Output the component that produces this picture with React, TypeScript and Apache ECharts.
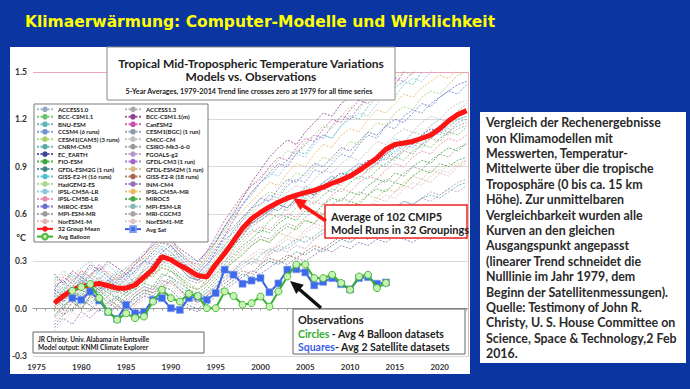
import React, { useEffect, useRef } from 'react';
import * as echarts from 'echarts';

// ---------- DATA ----------
const modelStartYear = 1977; // model runs and group mean: 1977..2023 (5-yr averages)
const obsStartYear = 1979; // observations: 1979..2014

const groupMean = [
  0.035, 0.08, 0.12, 0.14, 0.15, 0.16, 0.145, 0.13, 0.13, 0.15,
  0.2, 0.25, 0.33, 0.31, 0.275, 0.245, 0.21, 0.2, 0.28, 0.35,
  0.43, 0.51, 0.57, 0.61, 0.645, 0.675, 0.7, 0.72, 0.735, 0.75,
  0.77, 0.795, 0.815, 0.84, 0.875, 0.915, 0.955, 1.01, 1.04, 1.05,
  1.06, 1.08, 1.1, 1.14, 1.19, 1.23, 1.255,
];

const avgBalloon = [
  0.113, 0.137, 0.156, 0.067, -0.02, -0.07, -0.03, -0.06, -0.05, 0.045,
  0.12, 0.067, 0.045, 0.095, 0.08, 0.003, 0.003, 0.109, 0.08, 0.025,
  0.035, 0.077, 0.013, 0.109, 0.204, 0.28, 0.28, 0.194, 0.194, 0.215,
  0.163, 0.12, 0.204, 0.215, 0.13, 0.163,
];

const avgSat = [
  0.067, 0.056, 0.109, 0.052, -0.02, -0.065, 0.024, -0.029, -0.02, 0.056,
  0.067, 0.003, -0.008, 0.067, 0.075, 0.056, 0.099, 0.247, 0.215, 0.158,
  0.178, 0.194, 0.104, 0.16, 0.247, 0.25, 0.23, 0.148, 0.17, 0.194,
  0.155, 0.122, 0.194, 0.2, 0.158, 0.166,
];

const m01 = [.10,.05,.12,.18,.14,.20,.12,.10,.16,.12,.22,.26,.30,.36,.28,.22,.18,.22,.30,.38,.42,.50,.55,.62,.60,.68,.72,.70,.78,.74,.80,.84,.80,.88,.92,.90,.98,1.02,1.08,1.05,1.12,1.10,1.16,1.20,1.18,1.25,1.30];
const m02 = [.00,.06,.10,.08,.15,.12,.18,.10,.14,.20,.16,.24,.28,.26,.20,.16,.12,.18,.26,.30,.38,.44,.50,.48,.56,.60,.58,.64,.70,.66,.72,.76,.74,.80,.84,.82,.88,.92,.96,.94,1.00,1.04,1.02,1.08,1.12,1.10,1.15];
const m03 = [.20,.15,.22,.18,.26,.22,.18,.24,.20,.28,.32,.38,.44,.40,.34,.30,.26,.34,.42,.50,.58,.66,.72,.80,.84,.90,.94,1.00,.98,1.06,1.10,1.08,1.16,1.22,1.20,1.28,1.34,1.32,1.40,1.44,1.42,1.50,1.54,1.52,1.58,1.62,1.66];
const m04 = [.05,.12,.08,.16,.20,.14,.12,.18,.22,.16,.26,.32,.38,.30,.26,.24,.20,.26,.36,.44,.48,.56,.64,.66,.72,.70,.78,.82,.80,.88,.86,.92,.98,.96,1.04,1.10,1.08,1.16,1.14,1.22,1.26,1.24,1.30,1.34,1.38,1.36,1.42];
const m05 = [-.02,.04,.10,.14,.10,.18,.14,.08,.12,.18,.24,.22,.32,.34,.28,.22,.20,.24,.32,.40,.50,.58,.62,.70,.74,.72,.80,.86,.84,.90,.96,.94,1.00,1.06,1.04,1.12,1.18,1.16,1.24,1.28,1.26,1.34,1.38,1.36,1.42,1.48,1.50];
const m06 = [-.05,.02,.06,.10,.04,.08,.12,.06,.02,.08,.12,.10,.16,.20,.14,.10,.06,.10,.16,.20,.24,.30,.28,.34,.38,.36,.40,.44,.42,.46,.50,.48,.52,.56,.54,.58,.62,.60,.64,.68,.66,.70,.72,.70,.74,.78,.80];
const m07 = [.12,.08,.14,.20,.16,.12,.18,.14,.10,.16,.20,.28,.34,.30,.26,.20,.18,.22,.26,.34,.40,.46,.54,.58,.62,.66,.64,.70,.74,.72,.78,.82,.86,.84,.90,.94,.92,.98,1.02,1.06,1.04,1.10,1.14,1.12,1.18,1.22,1.24];
const m08 = [.08,.02,.06,.12,.08,.14,.10,.06,.10,.14,.18,.22,.26,.24,.20,.14,.12,.16,.22,.28,.34,.40,.44,.50,.48,.54,.58,.56,.62,.60,.66,.70,.68,.74,.72,.78,.82,.80,.86,.84,.90,.94,.92,.98,1.02,1.00,1.05];
const m09 = [-.10,-.04,.00,.06,.02,-.02,.04,.08,.02,.06,.10,.08,.14,.12,.06,.02,.00,.04,.10,.14,.18,.22,.20,.26,.30,.28,.32,.36,.34,.38,.36,.40,.44,.42,.46,.44,.48,.50,.48,.52,.50,.54,.52,.56,.54,.58,.56];
const m10 = [.16,.10,.18,.22,.16,.24,.20,.14,.20,.24,.30,.34,.40,.36,.30,.26,.22,.28,.34,.40,.46,.52,.56,.60,.64,.62,.68,.72,.70,.76,.80,.78,.84,.88,.86,.92,.96,.94,1.00,1.04,1.02,1.08,1.12,1.10,1.16,1.20,1.22];
const m11 = [.06,.12,.18,.14,.22,.18,.14,.20,.26,.22,.30,.36,.42,.38,.32,.26,.24,.32,.42,.52,.62,.70,.78,.84,.88,.94,1.00,.98,1.06,1.10,1.16,1.14,1.22,1.28,1.26,1.34,1.40,1.38,1.46,1.50,1.48,1.56,1.60,1.58,1.64,1.70,1.72];
const m12 = [.18,.24,.20,.26,.30,.24,.28,.22,.26,.30,.36,.40,.46,.42,.36,.32,.30,.36,.44,.52,.60,.66,.74,.80,.86,.84,.92,.98,.96,1.04,1.10,1.08,1.16,1.20,1.24,1.22,1.30,1.36,1.34,1.42,1.46,1.44,1.50,1.54,1.58,1.56,1.62];
const m13 = [.04,.10,.06,.12,.18,.14,.10,.16,.12,.18,.22,.20,.28,.32,.26,.22,.18,.16,.24,.30,.36,.42,.48,.52,.50,.56,.60,.58,.64,.68,.66,.72,.76,.74,.80,.84,.82,.88,.92,.90,.96,1.00,.98,1.04,1.08,1.06,1.10];
const m14 = [.14,.18,.12,.16,.22,.26,.20,.16,.22,.26,.30,.28,.36,.40,.34,.28,.24,.30,.38,.46,.52,.58,.64,.70,.68,.76,.82,.80,.86,.92,.90,.96,1.02,1.00,1.06,1.12,1.10,1.16,1.20,1.18,1.24,1.30,1.28,1.34,1.38,1.42,1.44];
const m15 = [.02,.08,.12,.06,.14,.10,.16,.12,.08,.14,.18,.26,.30,.28,.22,.18,.16,.20,.28,.34,.40,.48,.52,.56,.60,.58,.64,.68,.66,.72,.76,.74,.80,.84,.82,.88,.92,.90,.96,1.00,.98,1.04,1.08,1.06,1.12,1.16,1.18];
const m16 = [-.08,-.02,.04,.00,.06,.10,.04,.00,.06,.02,.08,.12,.18,.16,.10,.06,.04,.08,.14,.20,.26,.30,.34,.38,.36,.42,.46,.44,.50,.54,.52,.58,.56,.62,.66,.64,.70,.68,.74,.78,.76,.82,.80,.86,.84,.90,.92];
const m17 = [.10,.16,.10,.18,.14,.20,.16,.10,.14,.20,.24,.30,.34,.32,.28,.22,.18,.24,.30,.36,.42,.48,.54,.56,.60,.64,.62,.68,.72,.70,.76,.80,.78,.84,.88,.86,.92,.96,.94,1.00,1.04,1.02,1.08,1.12,1.10,1.14,1.16];
const m18 = [.22,.16,.24,.20,.28,.24,.30,.26,.22,.28,.34,.40,.46,.44,.38,.34,.30,.36,.42,.52,.60,.70,.80,.88,.96,1.02,1.07,1.04,1.12,1.18,1.24,1.22,1.30,1.34,1.32,1.40,1.44,1.42,1.50,1.54,1.52,1.58,1.62,1.60,1.66,1.70,1.72];
const m19 = [.12,.20,.16,.24,.20,.28,.22,.18,.24,.30,.34,.42,.48,.44,.36,.30,.28,.36,.46,.56,.64,.72,.78,.82,.90,.96,.94,1.02,1.08,1.06,1.14,1.20,1.18,1.26,1.32,1.30,1.38,1.44,1.42,1.50,1.54,1.52,1.60,1.64,1.62,1.68,1.72];
const m20 = [.00,.06,.12,.08,.16,.12,.08,.14,.18,.12,.20,.26,.30,.34,.26,.20,.18,.22,.30,.36,.44,.50,.54,.58,.62,.66,.64,.70,.74,.72,.78,.82,.80,.86,.90,.88,.94,.98,.96,1.02,1.06,1.04,1.10,1.14,1.12,1.18,1.20];
const m21 = [.18,.12,.20,.16,.22,.18,.24,.20,.16,.22,.28,.32,.38,.36,.30,.24,.22,.28,.34,.42,.50,.56,.60,.66,.70,.68,.74,.78,.76,.82,.88,.86,.92,.96,.94,1.00,1.06,1.04,1.10,1.14,1.12,1.18,1.22,1.20,1.26,1.30,1.32];
const m22 = [-.04,.02,-.02,.06,.02,.08,.04,.00,.06,.10,.14,.12,.20,.24,.18,.12,.10,.14,.20,.26,.32,.38,.42,.46,.44,.50,.54,.52,.58,.62,.60,.66,.70,.68,.74,.72,.78,.82,.80,.86,.90,.88,.94,.98,.96,1.02,1.04];
const m23 = [.06,.00,.08,.04,.10,.06,.02,.08,.04,.10,.14,.12,.18,.16,.12,.08,.06,.10,.14,.18,.22,.26,.30,.28,.34,.38,.36,.40,.38,.44,.48,.46,.50,.54,.52,.56,.60,.58,.62,.60,.66,.70,.68,.72,.76,.74,.78];
const m24 = [.10,.04,.12,.18,.14,.10,.16,.22,.18,.24,.30,.36,.42,.40,.32,.26,.22,.28,.36,.46,.56,.66,.74,.80,.86,.92,.90,.98,1.04,1.10,1.08,1.16,1.22,1.20,1.28,1.34,1.32,1.40,1.46,1.44,1.50,1.56,1.54,1.60,1.66,1.64,1.70];
const m25 = [.14,.08,.16,.12,.18,.14,.10,.16,.12,.18,.22,.20,.26,.24,.18,.14,.12,.16,.22,.26,.30,.36,.40,.44,.42,.48,.46,.52,.56,.54,.60,.58,.64,.62,.68,.72,.70,.76,.74,.80,.84,.82,.88,.86,.92,.90,.94];
const m26 = [.02,-.04,.04,.00,.08,.04,.00,.06,.02,.08,.12,.10,.14,.18,.12,.06,.04,.08,.12,.16,.20,.24,.22,.28,.32,.30,.34,.32,.36,.40,.38,.42,.46,.44,.48,.46,.50,.54,.52,.56,.54,.58,.62,.60,.64,.62,.66];
const m27 = [-.12,-.06,-.10,-.02,-.06,.00,-.04,.02,-.02,.04,.08,.06,.10,.08,.04,.00,-.02,.02,.08,.12,.16,.20,.24,.22,.26,.30,.28,.32,.30,.34,.38,.36,.40,.38,.42,.40,.44,.42,.46,.44,.42,.46,.44,.48,.46,.44,.48];
const m28 = [.16,.22,.18,.24,.20,.26,.22,.18,.24,.28,.32,.38,.44,.42,.36,.30,.26,.32,.40,.48,.56,.62,.68,.74,.80,.78,.86,.92,.90,.98,1.04,1.02,1.10,1.14,1.12,1.20,1.26,1.24,1.30,1.36,1.34,1.40,1.44,1.48,1.46,1.52,1.56];
const m29 = [.04,.10,.06,.00,.08,.12,.06,.02,.08,.12,.16,.14,.22,.20,.16,.12,.08,.12,.18,.24,.30,.34,.40,.44,.42,.48,.52,.50,.56,.54,.60,.64,.62,.68,.66,.72,.76,.74,.80,.78,.84,.88,.86,.92,.90,.94,.96];
const m30 = [.08,.14,.10,.18,.14,.10,.16,.20,.14,.18,.24,.28,.34,.32,.26,.20,.18,.24,.30,.38,.44,.50,.56,.60,.64,.62,.68,.72,.76,.74,.80,.84,.82,.88,.92,.90,.96,1.00,.98,1.04,1.08,1.06,1.12,1.16,1.14,1.20,1.22];
const m31 = [-.06,.00,.06,.02,-.02,.04,.08,.02,-.02,.04,.10,.14,.12,.18,.12,.08,.04,.08,.14,.18,.24,.28,.32,.30,.36,.40,.38,.42,.46,.44,.48,.52,.50,.56,.54,.58,.62,.60,.64,.68,.66,.70,.74,.72,.76,.80,.82];
const m32 = [-.14,-.08,-.02,-.06,.00,.04,-.02,.02,-.04,.02,.06,.10,.16,.14,.08,.04,.02,.06,.12,.18,.24,.28,.32,.36,.34,.40,.44,.42,.48,.52,.50,.56,.60,.58,.64,.62,.68,.72,.70,.76,.80,.78,.84,.88,.86,.92,.94];

const modelNames = [
  'ACCESS1.0', 'BCC-CSM1.1', 'BNU-ESM', 'CCSM4 (6 runs)', 'CESM1(CAM5) (3 runs)', 'CNRM-CM5',
  'EC_EARTH', 'FIO-ESM', 'GFDL-ESM2G (1 run)', 'GISS-E2-H (16 runs)', 'HadGEM2-ES', 'IPSL-CM5A-LR',
  'IPSL-CM5B-LR', 'MIROC-ESM', 'MPI-ESM-MR', 'NorESM1-M',
  'ACCESS1.3', 'BCC-CSM1.1(m)', 'CanESM2', 'CESM1(BGC) (1 run)', 'CMCC-CM', 'CSIRO-Mk3-6-0',
  'FGOALS-g2', 'GFDL-CM3 (1 run)', 'GFDL-ESM2M (1 run)', 'GISS-E2-R (18 runs)', 'INM-CM4', 'IPSL-CM5A-MR',
  'MIROC5', 'MPI-ESM-LR', 'MRI-CGCM3', 'NorESM1-ME',
];
const modelValues = [
  m01, m02, m03, m04, m05, m06, m07, m08, m09, m10, m11, m12, m13, m14, m15, m16,
  m17, m18, m19, m20, m21, m22, m23, m24, m25, m26, m27, m28, m29, m30, m31, m32,
];

const meanName = '32 Group Mean';
const balloonName = 'Avg Balloon';
const satName = 'Avg Sat';

const xLabelYears = [1975, 1980, 1985, 1990, 1995, 2000, 2005, 2010, 2015, 2020];
const xTickYears = [
  1975, 1976, 1977, 1978, 1979, 1980, 1981, 1982, 1983, 1984, 1985, 1986, 1987, 1988, 1989,
  1990, 1991, 1992, 1993, 1994, 1995, 1996, 1997, 1998, 1999, 2000, 2001, 2002, 2003, 2004,
  2005, 2006, 2007, 2008, 2009, 2010, 2011, 2012, 2013, 2014, 2015, 2016, 2017, 2018, 2019,
  2020, 2021, 2022, 2023,
];

const sideText = [
  'Vergleich der Rechenergebnisse',
  'von Klimamodellen mit',
  'Messwerten, Temperatur-',
  'Mittelwerte über die tropische',
  'Troposphäre (0 bis ca. 15 km',
  'Höhe). Zur unmittelbaren',
  'Vergleichbarkeit wurden alle',
  'Kurven an den gleichen',
  'Ausgangspunkt angepasst',
  '(linearer Trend schneidet die',
  'Nulllinie im Jahr 1979, dem',
  'Beginn der Satellitenmessungen).',
  'Quelle: Testimony of John R.',
  'Christy, U. S. House Committee on',
  'Science, Space & Technology,2 Feb',
  '2016.',
];

// ---------- STYLE ----------
const modelColors = [
  '#93a9c4', '#66c266', '#5fb3b3', '#6f93cc', '#a6cf6a', '#58a8a8', '#3c4496', '#3aa63a',
  '#3f8585', '#4cbfd0', '#a9d68a', '#86c9dc', '#e88aac', '#6a6ccc', '#9a9a9a', '#deb4b4',
  '#aaaaaa', '#8a3f8f', '#c950a8', '#8c9aad', '#bdbdbd', '#999999', '#b59ac8', '#a465c8',
  '#d1bb85', '#a8664f', '#9470b8', '#e8b860', '#44a844', '#86b8b8', '#a4a4a4', '#e0c4c4',
];

const FONT = 'Lato';
const BLUE = '#0b36a2';

function seriesFrom(start: number, values: number[]) {
  return values.map((v, i) => [start + i, v]);
}

export default function App() {
  const ref = useRef<HTMLDivElement>(null);

  useEffect(() => {
    document.body.style.margin = '0';
    const chart = echarts.init(ref.current!, null, { renderer: 'svg' });

    const modelSeries = modelValues.map((vals, i) => ({
      name: modelNames[i],
      type: 'line',
      data: seriesFrom(modelStartYear, vals),
      symbol: 'none',
      silent: true,
      z: 2,
      lineStyle: { width: 1, type: [2, 1.5], color: modelColors[i], opacity: 0.85 },
      itemStyle: { color: modelColors[i] },
    }));

    const legendText = {
      fontFamily: FONT,
      fontSize: 6,
      fontWeight: 'bold',
      color: '#222',
      lineHeight: 7,
    };

    const option: any = {
      animation: false,
      backgroundColor: BLUE,
      grid: { left: 33, right: 222, top: 72, bottom: 33, containLabel: false },
      xAxis: {
        type: 'value',
        min: 1974.61,
        max: 2023.16,
        axisLine: { show: true, lineStyle: { color: '#9a9a9a', width: 1 } },
        axisTick: { show: true, customValues: xTickYears, length: 2, lineStyle: { color: '#9a9a9a' } },
        axisLabel: {
          customValues: xLabelYears,
          formatter: (v: number) => String(Math.round(v)),
          fontFamily: FONT,
          fontWeight: 'bold',
          fontSize: 8,
          color: '#333',
          margin: 7,
        },
        splitLine: { show: false },
      },
      yAxis: [
        {
          type: 'value',
          min: -0.3,
          max: 1.5,
          interval: 0.3,
          axisLine: { show: false },
          axisTick: { show: false },
          axisLabel: {
            formatter: (v: number) => v.toFixed(1),
            fontFamily: FONT,
            fontWeight: 'bold',
            fontSize: 8.5,
            color: '#333',
            margin: 6,
          },
          splitLine: {
            show: true,
            lineStyle: {
              color: ['#d9d9d9', '#d9d9d9', '#d9d9d9', '#d9d9d9', '#d9d9d9', '#d9d9d9', '#efa3b8'],
              width: 1,
            },
          },
        },
        {
          type: 'value',
          position: 'right',
          min: -0.3,
          max: 1.5,
          interval: 0.3,
          axisLine: { show: true, lineStyle: { color: '#e6b3c6' } },
          axisTick: { show: false },
          axisLabel: { show: false },
          splitLine: { show: false },
        },
      ],
      legend: [
        {
          data: [...modelNames.slice(0, 16), meanName, balloonName],
          orient: 'vertical',
          left: 36,
          top: 105.8,
          padding: 0,
          itemWidth: 16,
          itemHeight: 7,
          itemGap: 0.47,
          selectedMode: false,
          textStyle: legendText,
          z: 6,
        },
        {
          data: [...modelNames.slice(16), satName],
          orient: 'vertical',
          left: 124,
          top: 105.8,
          padding: 0,
          itemWidth: 16,
          itemHeight: 7,
          itemGap: 0.47,
          selectedMode: false,
          textStyle: legendText,
          z: 6,
        },
      ],
      series: [
        ...modelSeries,
        {
          name: meanName,
          type: 'line',
          data: seriesFrom(modelStartYear, groupMean),
          symbol: 'none',
          silent: true,
          z: 4,
          lineStyle: { width: 5, color: '#ff1414' },
          itemStyle: { color: '#ff1414' },
        },
        {
          name: satName,
          type: 'line',
          data: seriesFrom(obsStartYear, avgSat),
          symbol: 'rect',
          symbolSize: 7,
          silent: true,
          z: 5,
          lineStyle: { width: 2, color: '#3a5fe0' },
          itemStyle: { color: '#3d6ae8', borderColor: '#7d9cf0', borderWidth: 0.6 },
        },
        {
          name: balloonName,
          type: 'line',
          data: seriesFrom(obsStartYear, avgBalloon),
          symbol: 'circle',
          symbolSize: 7,
          silent: true,
          z: 6,
          lineStyle: { width: 2, color: '#35b52f' },
          itemStyle: { color: '#c9f3b4', borderColor: '#4cbb3c', borderWidth: 1 },
        },
      ],
      graphic: [
        // white chart panel
        { type: 'rect', z: -10, silent: true, shape: { x: 10, y: 47, width: 460, height: 327 }, style: { fill: '#ffffff' } },
        // main title
        {
          type: 'text', x: 260, y: 22, silent: true,
          style: { text: 'Klimaerwärmung: Computer-Modelle und Wirklichkeit', fill: '#ffff00', fontFamily: 'DejaVu Sans', fontWeight: 'bold', fontSize: 15.5, align: 'center', verticalAlign: 'middle' },
        },
        // chart title box
        { type: 'rect', z: 10, silent: true, shape: { x: 107, y: 47, width: 288, height: 53 }, style: { fill: '#fff', stroke: '#8a8a8a', lineWidth: 1 } },
        { type: 'text', z: 11, x: 251, y: 63, silent: true, style: { text: 'Tropical Mid-Tropospheric Temperature Variations', fill: '#222', fontFamily: FONT, fontWeight: 'bold', fontSize: 12, align: 'center', verticalAlign: 'middle' } },
        { type: 'text', z: 11, x: 251, y: 76.5, silent: true, style: { text: 'Models vs. Observations', fill: '#222', fontFamily: FONT, fontWeight: 'bold', fontSize: 12, align: 'center', verticalAlign: 'middle' } },
        { type: 'text', z: 11, x: 249, y: 91, silent: true, style: { text: '5-Year Averages, 1979-2014 Trend line crosses zero at 1979 for all time series', fill: '#222', fontFamily: FONT, fontWeight: 'bold', fontSize: 7.2, align: 'center', verticalAlign: 'middle' } },
        // legend box
        { type: 'rect', z: 3, silent: true, shape: { x: 34, y: 104, width: 174, height: 138 }, style: { fill: '#fff', stroke: '#7a7a7a', lineWidth: 1 } },
        // degree label
        { type: 'text', z: 11, x: 21, y: 237, silent: true, style: { text: '°C', fill: '#333', fontFamily: FONT, fontWeight: 'bold', fontSize: 9, align: 'center', verticalAlign: 'middle' } },
        // CMIP5 annotation
        { type: 'rect', z: 10, silent: true, shape: { x: 325, y: 205, width: 142, height: 33 }, style: { fill: '#fff', stroke: '#ee2222', lineWidth: 1.5 } },
        { type: 'text', z: 11, x: 331, y: 216, silent: true, style: { text: 'Average of 102 CMIP5', fill: '#222', fontFamily: FONT, fontWeight: 'bold', fontSize: 11, align: 'left', verticalAlign: 'middle' } },
        { type: 'text', z: 11, x: 331, y: 229, silent: true, style: { text: 'Model Runs in 32 Groupings', fill: '#222', fontFamily: FONT, fontWeight: 'bold', fontSize: 11, align: 'left', verticalAlign: 'middle' } },
        { type: 'line', z: 11, silent: true, shape: { x1: 326, y1: 221, x2: 303, y2: 205.5 }, style: { stroke: '#ff1414', lineWidth: 3.5 } },
        { type: 'polygon', z: 11, silent: true, shape: { points: [[293, 198], [307.1, 200.2], [300.5, 210.2]] }, style: { fill: '#ff1414' } },
        // observations annotation
        { type: 'line', z: 11, silent: true, shape: { x1: 321, y1: 308, x2: 299, y2: 289 }, style: { stroke: '#111', lineWidth: 3.5 } },
        { type: 'polygon', z: 11, silent: true, shape: { points: [[290, 281], [303.8, 284.7], [296.2, 293.9]] }, style: { fill: '#111' } },
        { type: 'rect', z: 10, silent: true, shape: { x: 293, y: 309, width: 172, height: 45 }, style: { fill: '#fff', stroke: '#666', lineWidth: 1 } },
        { type: 'text', z: 11, x: 298, y: 319.5, silent: true, style: { text: 'Observations', fill: '#222', fontFamily: FONT, fontWeight: 'bold', fontSize: 11, align: 'left', verticalAlign: 'middle' } },
        {
          type: 'text', z: 11, x: 298, y: 333.5, silent: true,
          style: {
            text: '{g|Circles}{k| - Avg 4 Balloon datasets}', fontFamily: FONT, fontWeight: 'bold', fontSize: 10.5, align: 'left', verticalAlign: 'middle',
            rich: { g: { fill: '#2fae2f', fontFamily: FONT, fontWeight: 'bold', fontSize: 10.5 }, k: { fill: '#222', fontFamily: FONT, fontWeight: 'bold', fontSize: 10.5 } },
          },
        },
        {
          type: 'text', z: 11, x: 298, y: 346.5, silent: true,
          style: {
            text: '{b|Squares}{k|- Avg 2 Satellite datasets}', fontFamily: FONT, fontWeight: 'bold', fontSize: 10.5, align: 'left', verticalAlign: 'middle',
            rich: { b: { fill: '#3a5ee8', fontFamily: FONT, fontWeight: 'bold', fontSize: 10.5 }, k: { fill: '#222', fontFamily: FONT, fontWeight: 'bold', fontSize: 10.5 } },
          },
        },
        // credit box
        { type: 'rect', z: 10, silent: true, shape: { x: 33, y: 332, width: 171, height: 21 }, style: { fill: '#fff', stroke: '#666', lineWidth: 1 } },
        { type: 'text', z: 11, x: 38, y: 339.5, silent: true, style: { text: 'JR Christy. Univ. Alabama in Huntsville', fill: '#222', fontFamily: FONT, fontWeight: 'bold', fontSize: 6.5, align: 'left', verticalAlign: 'middle' } },
        { type: 'text', z: 11, x: 38, y: 347.5, silent: true, style: { text: 'Model output: KNMI Climate Explorer', fill: '#222', fontFamily: FONT, fontWeight: 'bold', fontSize: 6.5, align: 'left', verticalAlign: 'middle' } },
        // right explanatory box
        { type: 'rect', z: 10, silent: true, shape: { x: 480, y: 112, width: 206, height: 251 }, style: { fill: '#fff' } },
        { type: 'text', z: 11, x: 486, y: 115, silent: true, style: { text: sideText.join('\n'), fill: '#2a2a2a', fontFamily: FONT, fontWeight: 'bold', fontSize: 12.4, lineHeight: 15.4, align: 'left', verticalAlign: 'top' } },
      ],
    };

    chart.setOption(option);
    return () => chart.dispose();
  }, []);

  return <div ref={ref} style={{ width: 690, height: 389 }} />;
}
